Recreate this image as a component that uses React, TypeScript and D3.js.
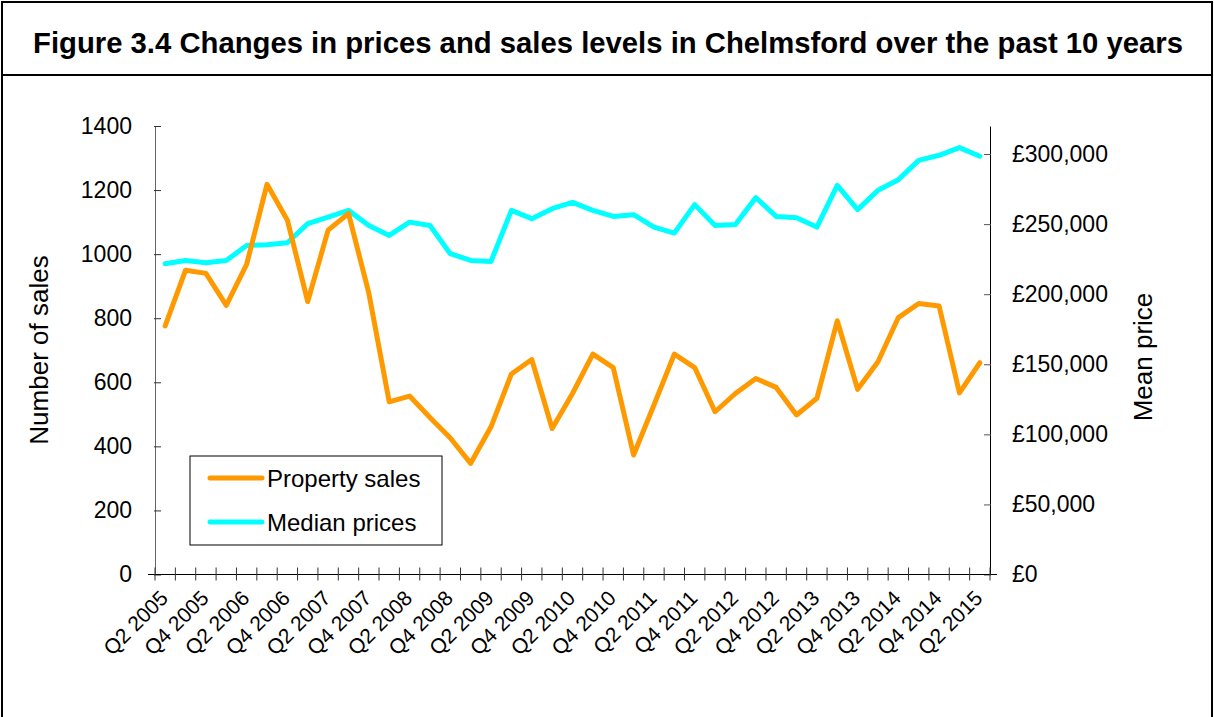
// @ts-nocheck
import React, { useEffect, useRef } from "react";
import * as d3 from "d3";

const quarters = [
  "Q2 2005", "Q3 2005", "Q4 2005", "Q1 2006", "Q2 2006", "Q3 2006", "Q4 2006", "Q1 2007",
  "Q2 2007", "Q3 2007", "Q4 2007", "Q1 2008", "Q2 2008", "Q3 2008", "Q4 2008", "Q1 2009",
  "Q2 2009", "Q3 2009", "Q4 2009", "Q1 2010", "Q2 2010", "Q3 2010", "Q4 2010", "Q1 2011",
  "Q2 2011", "Q3 2011", "Q4 2011", "Q1 2012", "Q2 2012", "Q3 2012", "Q4 2012", "Q1 2013",
  "Q2 2013", "Q3 2013", "Q4 2013", "Q1 2014", "Q2 2014", "Q3 2014", "Q4 2014", "Q1 2015",
  "Q2 2015",
];

const propertySales = [
  776, 950, 940, 840, 968, 1218, 1106, 852, 1075, 1127,
  878, 539, 557, 490, 426, 347, 461, 626, 671, 456,
  565, 688, 646, 373, 529, 688, 646, 508, 565, 612,
  584, 498, 550, 792, 578, 664, 802, 846, 838, 567,
  661,
];

const medianPrices = [
  221700, 224000, 222400, 224000, 234800, 235300, 236700, 250300, 255000, 259800,
  249000, 241900, 251400, 249000, 228900, 224100, 223400, 259800, 253900, 261000,
  265500, 259800, 255500, 256700, 247900, 243600, 263900, 249000, 249800, 268900,
  255500, 254600, 247900, 277600, 260300, 274100, 281700, 295500, 299100, 304600,
  298400,
];

const salesTicks = [0, 200, 400, 600, 800, 1000, 1200, 1400];
const priceTicks = [0, 50000, 100000, 150000, 200000, 250000, 300000];

const W = 1214;
const H = 717;
const FONT = "Arial, 'Liberation Sans', sans-serif";

export default function App() {
  const ref = useRef(null);

  useEffect(() => {
    const svg = d3.select(ref.current);
    svg.selectAll("*").remove();

    const left = 155, right = 990, top = 126, bottom = 574.5;

    // outer frame + title band
    svg.append("rect")
      .attr("x", 2).attr("y", 2).attr("width", W - 4).attr("height", H + 10)
      .attr("fill", "#fff").attr("stroke", "#000").attr("stroke-width", 2);
    svg.append("line")
      .attr("x1", 2).attr("x2", W - 2).attr("y1", 75).attr("y2", 75)
      .attr("stroke", "#000").attr("stroke-width", 2);
    svg.append("text")
      .attr("x", 33).attr("y", 53)
      .attr("textLength", 1150).attr("lengthAdjust", "spacingAndGlyphs")
      .attr("font-family", FONT).attr("font-weight", "bold").attr("font-size", 29)
      .text("Figure 3.4 Changes in prices and sales levels in Chelmsford over the past 10 years");

    // scales
    const x = d3.scaleBand().domain(quarters).range([left, right]).padding(0);
    const cx = d => x(d) + x.bandwidth() / 2;
    const yL = d3.scaleLinear().domain([0, 1400]).range([bottom, top]);
    const yR = d3.scaleLinear().domain([0, 320000]).range([bottom, top]);

    // left axis
    const gL = svg.append("g").attr("transform", `translate(${left},0)`)
      .call(d3.axisLeft(yL).tickValues(salesTicks).tickFormat(d3.format("d"))
        .tickSize(7).tickSizeOuter(0).tickPadding(16));
    gL.selectAll("line").attr("transform", "translate(6,0)").attr("stroke", "#333");
    gL.selectAll("text").attr("font-family", FONT).attr("font-size", 23).attr("fill", "#000");
    gL.select(".domain").attr("stroke", "#666");

    // right axis
    const gR = svg.append("g").attr("transform", `translate(${right},0)`)
      .call(d3.axisRight(yR).tickValues(priceTicks).tickSize(7).tickSizeOuter(0).tickPadding(15)
        .tickFormat(d => "£" + d3.format(",")(d)));
    gR.selectAll("line").attr("transform", "translate(-6,0)").attr("stroke", "#555");
    gR.selectAll("text").attr("font-family", FONT).attr("font-size", 23).attr("fill", "#000");
    gR.select(".domain").attr("stroke", "#000");

    // bottom axis: ticks at category boundaries
    svg.append("line")
      .attr("x1", left - 7).attr("x2", right + 7).attr("y1", bottom).attr("y2", bottom)
      .attr("stroke", "#000");
    const bounds = quarters.map(q => x(q)).concat([right]);
    svg.append("g").selectAll("line").data(bounds).join("line")
      .attr("x1", d => d).attr("x2", d => d)
      .attr("y1", bottom - 7).attr("y2", bottom + 6)
      .attr("stroke", "#333");
    svg.append("g").selectAll("text")
      .data(quarters.filter((q, i) => i % 2 === 0))
      .join("text")
      .attr("transform", d => `translate(${cx(d) + 4},${bottom + 25}) rotate(-45)`)
      .attr("text-anchor", "end")
      .attr("font-family", FONT).attr("font-size", 21)
      .text(d => d);

    // axis titles
    svg.append("text")
      .attr("transform", `translate(48,350) rotate(-90)`)
      .attr("text-anchor", "middle")
      .attr("font-family", FONT).attr("font-size", 26)
      .text("Number of sales");
    svg.append("text")
      .attr("transform", `translate(1152,357) rotate(-90)`)
      .attr("text-anchor", "middle")
      .attr("font-family", FONT).attr("font-size", 26)
      .text("Mean price");

    // lines
    const lineSales = d3.line().x((d, i) => cx(quarters[i])).y(d => yL(d));
    const linePrice = d3.line().x((d, i) => cx(quarters[i])).y(d => yR(d));

    svg.append("path").datum(medianPrices)
      .attr("d", linePrice).attr("fill", "none")
      .attr("stroke", "#00ffff").attr("stroke-width", 5).attr("stroke-linejoin", "round").attr("stroke-linecap", "round");
    svg.append("path").datum(propertySales)
      .attr("d", lineSales).attr("fill", "none")
      .attr("stroke", "#ff9900").attr("stroke-width", 5).attr("stroke-linejoin", "round").attr("stroke-linecap", "round");

    // legend
    const lg = svg.append("g");
    lg.append("rect").attr("x", 190).attr("y", 456).attr("width", 252).attr("height", 89)
      .attr("fill", "#fff").attr("stroke", "#000").attr("stroke-width", 1);
    const items = [
      { label: "Property sales", color: "#ff9900", y: 478 },
      { label: "Median prices", color: "#00ffff", y: 522 },
    ];
    items.forEach(it => {
      lg.append("line").attr("x1", 210).attr("x2", 262).attr("y1", it.y).attr("y2", it.y)
        .attr("stroke", it.color).attr("stroke-width", 5).attr("stroke-linecap", "round");
      lg.append("text").attr("x", 267).attr("y", it.y + 8.5)
        .attr("font-family", FONT).attr("font-size", 24).text(it.label);
    });
  }, []);

  return (
    <div style={{ position: "absolute", left: 0, top: 0 }}>
      <svg ref={ref} width={W} height={H} style={{ display: "block" }} />
    </div>
  );
}
